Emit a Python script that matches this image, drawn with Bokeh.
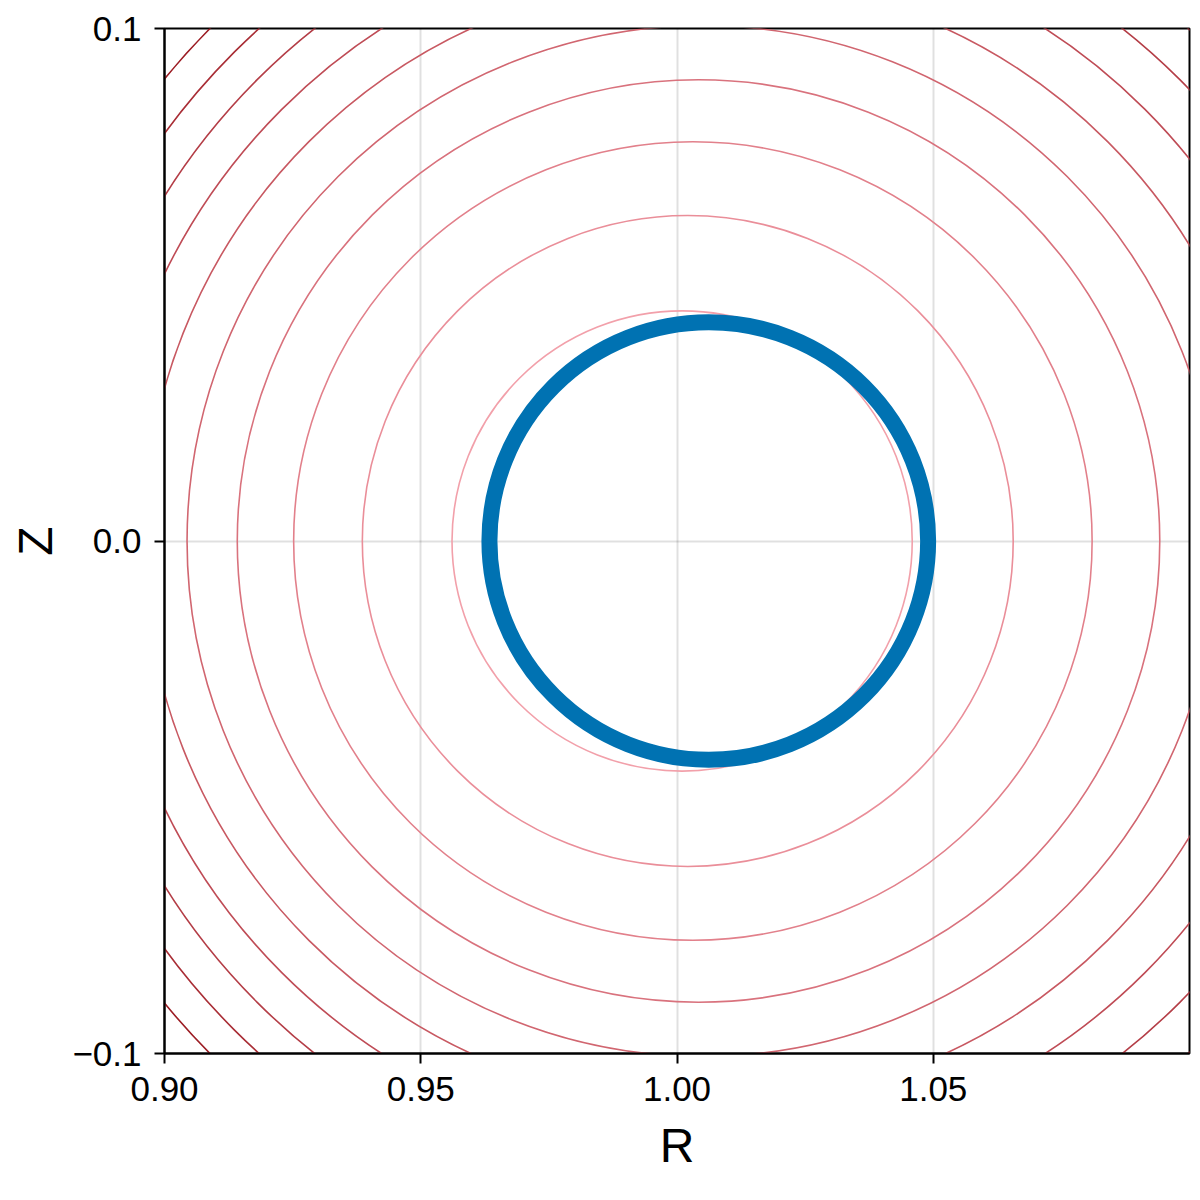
from bokeh.plotting import figure
from bokeh.models import Range1d, FixedTicker, ColumnDataSource
from bokeh.embed import file_html
from bokeh.resources import INLINE

# ---- data ----
# flux-surface contours (circles centred on Z = 0)
contour_center_R = [1.0010, 1.0021, 1.0031, 1.0042, 1.0050, 1.0061, 1.0071, 1.0081, 1.0091, 1.0101]
contour_radius   = [0.0449, 0.0635, 0.0779, 0.0900, 0.1006, 0.1102, 0.1191, 0.1273, 0.1350, 0.1423]
contour_center_Z = [0.0] * len(contour_radius)

# boundary (thick blue curve)
boundary_center_R = [1.0062]
boundary_center_Z = [0.0]
boundary_radius_R = [0.0428]
boundary_radius_Z = [0.0427]

x_ticks = [0.90, 0.95, 1.00, 1.05]
x_tick_labels = ["0.90", "0.95", "1.00", "1.05"]
y_ticks = [-0.1, 0.0, 0.1]
y_tick_labels = ["\u22120.1", "0.0", "0.1"]

# ---- styles ----
contour_colors = ["#f2a0aa", "#ea8e99", "#e2808b", "#d9727d", "#d16670",
                  "#c85962", "#bf4c56", "#b43e47", "#a92e36", "#9c1d24"]
FONT = "Liberation Sans"

p = figure(frame_width=1025, frame_height=1025,
           x_range=Range1d(0.9, 1.1), y_range=Range1d(-0.1, 0.1),
           output_backend="svg", toolbar_location=None,
           min_border_left=164, min_border_right=8,
           min_border_top=28, min_border_bottom=144,
           background_fill_color="white", border_fill_color="white")

src = ColumnDataSource(dict(
    x=contour_center_R, y=contour_center_Z,
    w=[2 * r for r in contour_radius], h=[2 * r for r in contour_radius],
    c=contour_colors))
p.ellipse(x="x", y="y", width="w", height="h", source=src,
          fill_color=None, line_color="c", line_width=1.6)

p.ellipse(x=boundary_center_R, y=boundary_center_Z,
          width=[2 * r for r in boundary_radius_R],
          height=[2 * r for r in boundary_radius_Z],
          fill_color=None, line_color="#0072b2", line_width=16)

# axes
p.xaxis.ticker = FixedTicker(ticks=x_ticks)
p.yaxis.ticker = FixedTicker(ticks=y_ticks)
p.xaxis.major_label_overrides = {t: l for t, l in zip(x_ticks, x_tick_labels)}
p.yaxis.major_label_overrides = {t: l for t, l in zip(y_ticks, y_tick_labels)}
p.xaxis.axis_label = "R"
p.yaxis.axis_label = "Z"
for ax in (p.xaxis, p.yaxis):
    ax.axis_label_text_font = FONT
    ax.axis_label_text_font_size = "48px"
    ax.axis_label_text_font_style = "normal"
    ax.axis_label_text_color = "black"
    ax.major_label_text_font = FONT
    ax.major_label_text_font_size = "35px"
    ax.major_label_text_color = "black"
    ax.major_tick_out = 10
    ax.major_tick_in = 0
    ax.minor_tick_out = 0
    ax.minor_tick_in = 0
    ax.major_tick_line_width = 2
    ax.major_tick_line_color = "black"
    ax.axis_line_width = 2
    ax.axis_line_color = "black"
p.xaxis.major_label_standoff = 13
p.yaxis.major_label_standoff = 13
p.xaxis.axis_label_standoff = 15
p.yaxis.axis_label_standoff = 7
p.yaxis.major_label_orientation = "horizontal"

p.xgrid.ticker = FixedTicker(ticks=x_ticks)
p.ygrid.ticker = FixedTicker(ticks=y_ticks)
p.grid.grid_line_color = "black"
p.grid.grid_line_alpha = 0.12
p.grid.grid_line_width = 2

p.outline_line_color = "black"
p.outline_line_width = 2
p.outline_line_alpha = 1.0

open("out.html", "w").write(file_html(p, INLINE))
